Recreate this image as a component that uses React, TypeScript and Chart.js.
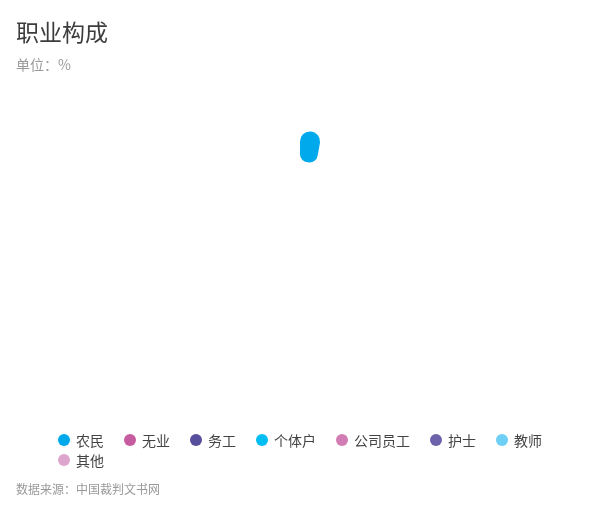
import { Chart, registerables } from 'chart.js';
import { useEffect, useRef } from 'react';

Chart.register(...registerables);

const TITLE = '职业构成';
const UNIT = '单位：%';
const SOURCE = '数据来源：中国裁判文书网';

// 职业 categories, share in %
const JOBS = ['农民', '无业', '务工', '个体户', '公司员工', '护士', '教师', '其他'];
const SHARES = [2.8, 0, 0, 0, 0, 0, 0, 0];
const COLORS = ['#00a9ec', '#c75b9f', '#554f9c', '#00bdf2', '#d27cb4', '#6c63ab', '#6dcff6', '#dda7cd'];

const FONT = "'Noto Sans CJK SC', 'Noto Sans', sans-serif";

export default function App() {
  const canvasRef = useRef<HTMLCanvasElement>(null);
  const chartRef = useRef<Chart | null>(null);

  useEffect(() => {
    document.body.style.margin = '0';
    if (!canvasRef.current) return;
    chartRef.current?.destroy();
    // the unfilled part of the circle stays empty
    const rest = Math.max(100 - SHARES.reduce((a, b) => a + b, 0), 0);
    chartRef.current = new Chart(canvasRef.current, {
      type: 'doughnut',
      data: {
        labels: [...JOBS, ''],
        datasets: [
          {
            data: [...SHARES, rest],
            backgroundColor: [...COLORS, 'rgba(0,0,0,0)'],
            borderWidth: 0,
            borderRadius: 10,
            hoverOffset: 0,
          },
        ],
      },
      options: {
        animation: false,
        responsive: true,
        maintainAspectRatio: false,
        radius: 124,
        cutout: '75%',
        layout: { padding: 0 },
        plugins: {
          legend: { display: false },
          tooltip: { enabled: false },
        },
      },
    });
    return () => {
      chartRef.current?.destroy();
      chartRef.current = null;
    };
  }, []);

  return (
    <div style={{ position: 'relative', width: 600, height: 510, fontFamily: FONT, background: '#fff' }}>
      <div style={{ position: 'absolute', left: 0, top: 0, width: 600, height: 510 }}>
        <canvas ref={canvasRef} />
      </div>
      <div style={{ position: 'absolute', left: 16, top: 19, fontSize: 23, lineHeight: '24px', color: '#3c3c3c' }}>
        {TITLE}
      </div>
      <div style={{ position: 'absolute', left: 16, top: 57, fontSize: 14, lineHeight: '14px', color: '#999' }}>
        {UNIT}
      </div>
      <div
        style={{
          position: 'absolute',
          left: 58,
          top: 430,
          width: 490,
          display: 'flex',
          flexWrap: 'wrap',
          columnGap: 20,
        }}
      >
        {JOBS.map((j, i) => (
          <div key={j} style={{ display: 'flex', alignItems: 'center', height: 20 }}>
            <span
              style={{
                width: 12,
                height: 12,
                borderRadius: '50%',
                background: COLORS[i],
                marginRight: 6,
                display: 'inline-block',
              }}
            />
            <span style={{ fontSize: 14, lineHeight: '20px', color: '#444' }}>{j}</span>
          </div>
        ))}
      </div>
      <div style={{ position: 'absolute', left: 16, top: 482, fontSize: 12, lineHeight: '13px', color: '#999' }}>
        {SOURCE}
      </div>
    </div>
  );
}
